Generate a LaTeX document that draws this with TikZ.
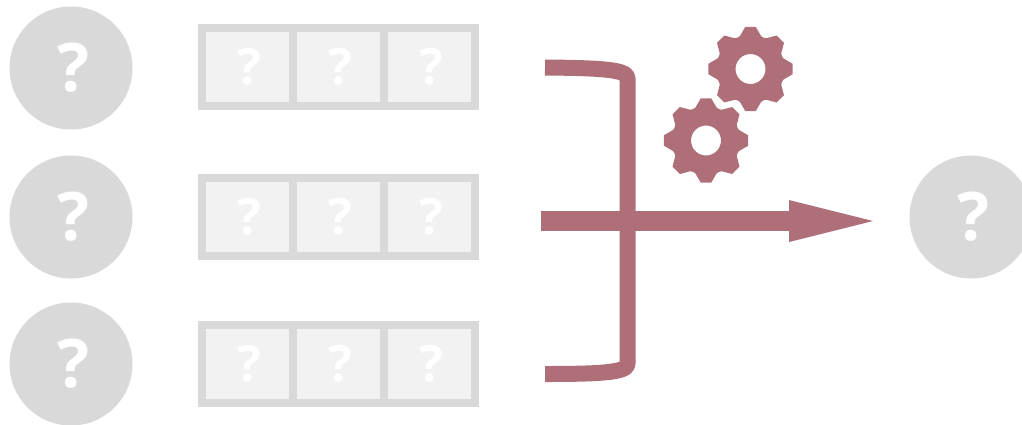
\documentclass[tikz,border=0pt]{standalone}
\usepackage{fontspec}
\setmainfont{Open Sans}
\usepackage{xcolor}
\usetikzlibrary{positioning, arrows.meta}
\definecolor{unkgray}{RGB}{217, 217, 217}
\definecolor{cellgray}{RGB}{242, 242, 242}
\definecolor{mixrose}{RGB}{174, 111, 120}
\newcommand{\qmark}{\kern0.07em ?}

\begin{document}
\begin{tikzpicture}[x=1pt, y=-1pt,
    unknown/.style={circle, fill=unkgray, text=white, minimum size=123pt, inner sep=0pt, outer sep=0pt, font=\fontsize{67}{67}\selectfont\bfseries},
    cell/.style={draw=unkgray, fill=cellgray, line width=8pt, text=white, minimum width=91pt, minimum height=78pt, inner sep=0pt, outer sep=0pt, font=\fontsize{50}{50}\selectfont\bfseries},
    gearicon/.pic={
      \fill[mixrose, even odd rule]
        (-7:42.5) \foreach \a in {0,45,...,315} {
          -- (\a-7:42.5) -- (\a+7:42.5) -- (\a+18:34.5) -- (\a+22.5:34) -- (\a+27:34.5)
        } -- cycle
        (0,0) circle[radius=15];
    }]
    \useasboundingbox (0,0) rectangle (1022,424);

    \node[unknown] (in1) at (71,68) {\qmark};
    \node[unknown] (in2) at (71,217) {\qmark};
    \node[unknown] (in3) at (71,364) {\qmark};
    \node[unknown] (out) at (971,217) {\qmark};

    \node[cell] (c11) at (247.5,67) {\qmark};
    \node[cell, right=0pt of c11] (c12) {\qmark};
    \node[cell, right=0pt of c12] (c13) {\qmark};

    \node[cell] (c21) at (247.5,216.5) {\qmark};
    \node[cell, right=0pt of c21] (c22) {\qmark};
    \node[cell, right=0pt of c22] (c23) {\qmark};

    \node[cell] (c31) at (247.5,363.5) {\qmark};
    \node[cell, right=0pt of c31] (c32) {\qmark};
    \node[cell, right=0pt of c32] (c33) {\qmark};

    \coordinate (topend) at (545,67.5);
    \coordinate (botend) at (545,374);
    \coordinate (mixin) at (541,221);
    \coordinate (mixout) at (873,221);

    \draw[mixrose, line width=16pt, line join=round]
      (topend) .. controls (600,68) and (627.5,69.5) .. (627.5,78)
      -- (627.5,364) .. controls (627.5,372.5) and (600,374) .. (botend);
    \draw[-{Triangle[length=84pt, width=42pt, line width=0pt]}, mixrose, line width=20pt] (mixin) -- (mixout);

    \pic at (750.5,69) {gearicon};
    \pic at (706,140.5) {gearicon};
\end{tikzpicture}
\end{document}
